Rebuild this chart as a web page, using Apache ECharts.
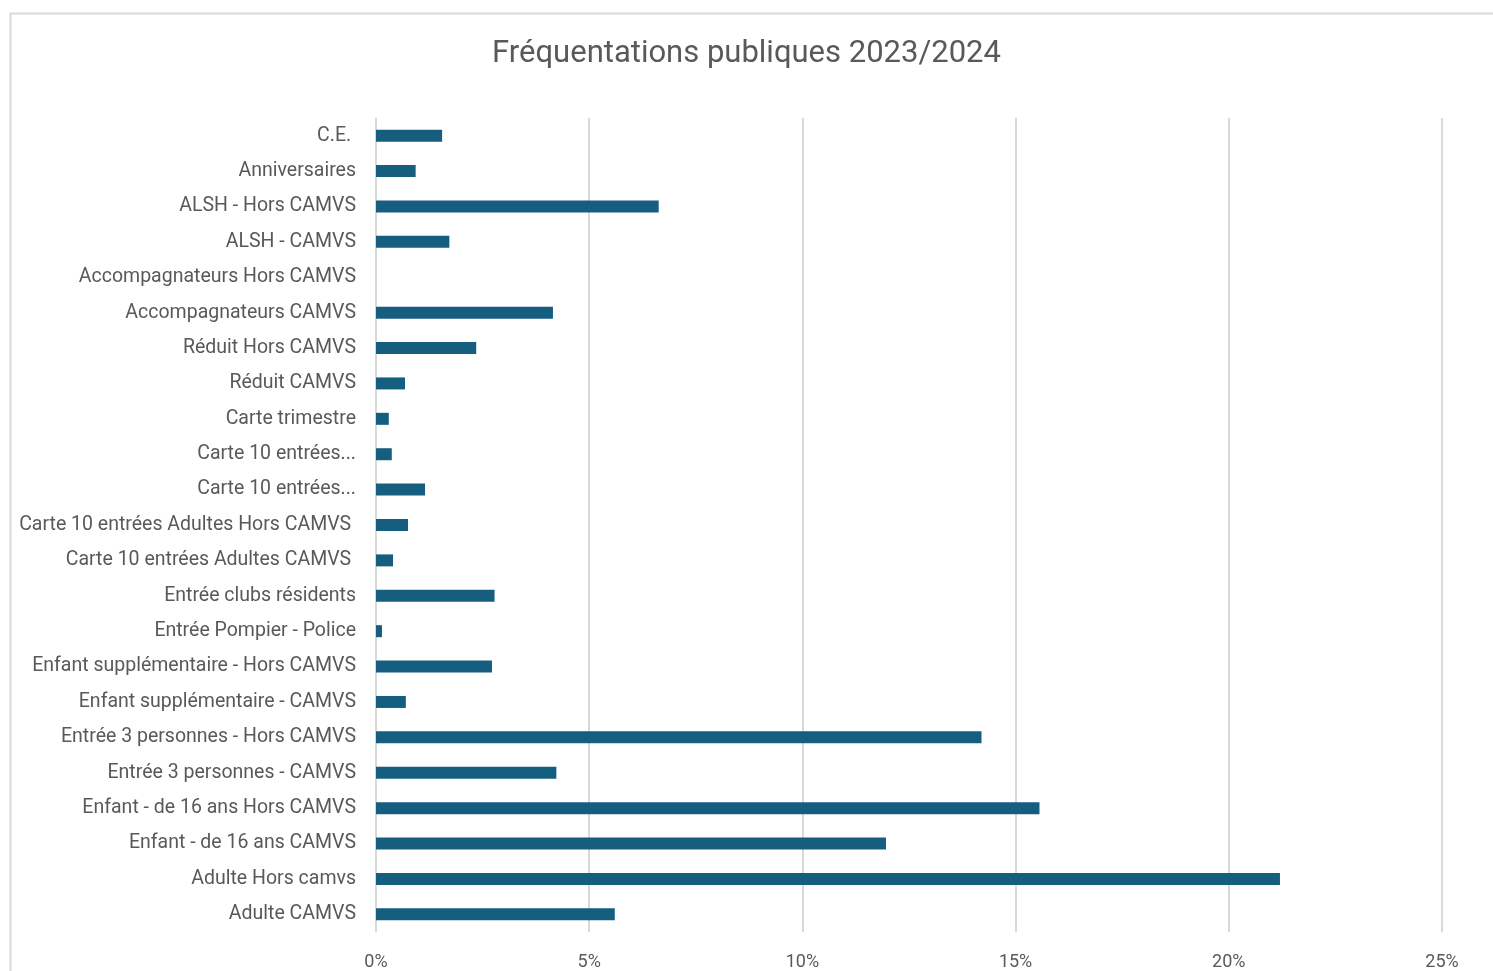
<!DOCTYPE html>
<html>
<head>
<meta charset="utf-8">
<title>Fréquentations publiques 2023/2024</title>
<script src="https://cdn.jsdelivr.net/npm/echarts@6/dist/echarts.min.js"></script>
<style>
  html, body { margin: 0; padding: 0; background: #ffffff; }
  #main { width: 1493px; height: 971px; }
</style>
</head>
<body>
<div id="main"></div>
<script>
// catégories, de haut en bas
var categories = [
  'C.E. ',
  'Anniversaires',
  'ALSH - Hors CAMVS',
  'ALSH - CAMVS',
  'Accompagnateurs Hors CAMVS',
  'Accompagnateurs CAMVS',
  'Réduit Hors CAMVS',
  'Réduit CAMVS',
  'Carte trimestre',
  'Carte 10 entrées...',
  'Carte 10 entrées...',
  'Carte 10 entrées Adultes Hors CAMVS ',
  'Carte 10 entrées Adultes CAMVS ',
  'Entrée clubs résidents',
  'Entrée Pompier - Police',
  'Enfant supplémentaire - Hors CAMVS',
  'Enfant supplémentaire - CAMVS',
  'Entrée 3 personnes - Hors CAMVS',
  'Entrée 3 personnes - CAMVS',
  'Enfant - de 16 ans Hors CAMVS',
  'Enfant - de 16 ans CAMVS',
  'Adulte Hors camvs',
  'Adulte CAMVS'
];

// part de fréquentation, en %
var values = [
  1.55, 0.93, 6.63, 1.72, 0, 4.15, 2.35, 0.68, 0.30, 0.37, 1.15, 0.75,
  0.40, 2.78, 0.14, 2.72, 0.70, 14.20, 4.23, 15.56, 11.96, 21.20, 5.60
];

var xTicks = { min: 0, max: 25, interval: 5 };

var myChart = echarts.init(document.getElementById('main'));
var option = {
  animation: false,
  textStyle: { fontFamily: 'Roboto, "Liberation Sans", sans-serif' },
  title: {
    text: 'Fréquentations publiques 2023/2024',
    left: 'center',
    top: 34,
    textStyle: { color: '#595959', fontSize: 31, fontWeight: 'normal' }
  },
  graphic: [{
    type: 'rect',
    shape: { x: 10.5, y: 13.5, width: 1500, height: 1000 },
    style: { fill: 'none', stroke: '#d9d9d9', lineWidth: 2 },
    silent: true
  }],
  grid: { left: 376, right: 51, top: 118, bottom: 37 },
  xAxis: {
    type: 'value',
    min: xTicks.min,
    max: xTicks.max,
    interval: xTicks.interval,
    axisLine: { show: false },
    axisTick: { show: false },
    axisLabel: { formatter: '{value}%', color: '#595959', fontSize: 18, margin: 21 },
    splitLine: { lineStyle: { color: '#d9d9d9', width: 2 } }
  },
  yAxis: {
    type: 'category',
    inverse: true,
    data: categories,
    axisLine: { show: false },
    axisTick: { show: false },
    axisLabel: { color: '#595959', fontSize: 19.5, margin: 20, interval: 0 }
  },
  series: [{
    type: 'bar',
    data: values,
    barWidth: 12,
    itemStyle: { color: '#165e80' }
  }]
};
option && myChart.setOption(option);
</script>
</body>
</html>
